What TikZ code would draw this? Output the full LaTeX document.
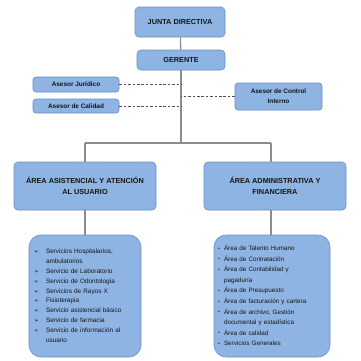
\documentclass[tikz,border=0pt]{standalone}
\usepackage{fontspec}
\setmainfont{Liberation Sans}
\newfontfamily\dejavu{DejaVu Sans}
\usetikzlibrary{calc}

\definecolor{boxfill}{HTML}{8DB4E2}
\definecolor{boxline}{HTML}{6A8FC4}
\definecolor{linkgray}{HTML}{8C8C8C}
\definecolor{dashgray}{HTML}{505050}
\definecolor{inkdark}{HTML}{161616}

% list bullets
\newcommand\arrowmark{\makebox[12pt][l]{\dejavu\fontsize{5.5}{6}\selectfont ➢}}
\newcommand\dotmark{\makebox[6pt][l]{\raisebox{0.3pt}{\fontsize{5}{5}\selectfont\textbullet}}}

\tikzset{
  orgbox/.style={draw=boxline, fill=boxfill, rounded corners=4pt, line width=0.6pt,
    text=inkdark, font=\bfseries\fontsize{7.3}{11}\selectfont, align=center, inner sep=1pt},
  advisor/.style={orgbox, rounded corners=3pt, font=\bfseries\fontsize{6.4}{10}\selectfont},
  listbox/.style={orgbox, rounded corners=12pt, align=left},
  trunk/.style={draw=linkgray, line width=1.3pt},
  staff/.style={draw=dashgray, line width=0.7pt, dash pattern=on 2.6pt off 1.8pt}
}

\begin{document}
\begin{tikzpicture}[x=1pt,y=-1pt]
\useasboundingbox (0,0) rectangle (361,360);

% management
\node[orgbox, minimum width=90pt, minimum height=30pt] (junta) at (180,22) {JUNTA DIRECTIVA};
\node[orgbox, minimum width=88pt, minimum height=20pt] (gerente) at (181,60) {GERENTE};

% advisors
\node[advisor, minimum width=86pt, minimum height=15pt] (juridico) at (76,84.5) {Asesor Jurídico};
\node[advisor, minimum width=86pt, minimum height=14pt] (calidad) at (76,106) {Asesor de Calidad};
\node[advisor, minimum width=87pt, minimum height=27pt] (control) at (278.5,96.5) {Asesor de Control\\Interno};

% areas
\node[orgbox, minimum width=142pt, minimum height=48pt] (asist) at (85,186)
  {ÁREA ASISTENCIAL Y ATENCIÓN\\AL USUARIO};
\node[orgbox, minimum width=142pt, minimum height=48pt] (admin) at (275,186)
  {ÁREA ADMINISTRATIVA Y\\FINANCIERA};

% services of each area
\node[listbox, minimum height=122pt, text width=102pt, inner xsep=5pt,
      font=\fontsize{6.4}{9.9}\selectfont] (servicios) at (85,296) {%
  \begin{tabular}{@{}l@{}l@{}}
  \arrowmark & Servicios Hospitalarios,\\
             & ambulatorios\\
  \arrowmark & Servicio de Laboratorio\\
  \arrowmark & Servicio de Odontología\\
  \arrowmark & Servicios de Rayos X\\
  \arrowmark & Fisioterapia\\
  \arrowmark & Servicio asistencial básico\\
  \arrowmark & Servicio de farmacia\\
  \arrowmark & Servicio de información al\\
             & usuario
  \end{tabular}};
\node[listbox, minimum height=122pt, text width=108pt, inner xsep=4pt,
      font=\fontsize{6.3}{10.6}\selectfont] (gestion) at (272,296) {%
  \begin{tabular}{@{}l@{}l@{}}
  \dotmark & Área de Talento Humano\\
  \dotmark & Área de Contratación\\
  \dotmark & Área de Contabilidad y\\
           & pagaduría\\
  \dotmark & Área de Presupuesto\\
  \dotmark & Área de facturación y cartera\\
  \dotmark & Área de archivo, Gestión\\
           & documental y estadística\\
  \dotmark & Área de calidad\\
  \dotmark & Servicios Generales
  \end{tabular}};

% reporting lines
\coordinate (split-l) at (85,143);
\coordinate (split-r) at (271,143);
\coordinate (split-c) at (gerente.south |- split-l);
\draw[trunk] (junta) -- (gerente);
\draw[trunk] (gerente.south) -- (split-c);
\draw[trunk] (split-l) -- (split-r);
\draw[trunk] (split-l) -- (split-l |- asist.north);
\draw[trunk] (split-r) -- (split-r |- admin.north);
\draw[trunk] (asist.south) -- (servicios.north);
\draw[trunk] (split-r |- admin.south) -- (split-r |- gestion.north);

% advisory links
\draw[staff] (juridico.east) -- (juridico.east -| gerente.south);
\draw[staff] (calidad.east) -- (calidad.east -| gerente.south);
\draw[staff] (control.west) -- (control.west -| gerente.south);
\end{tikzpicture}
\end{document}
